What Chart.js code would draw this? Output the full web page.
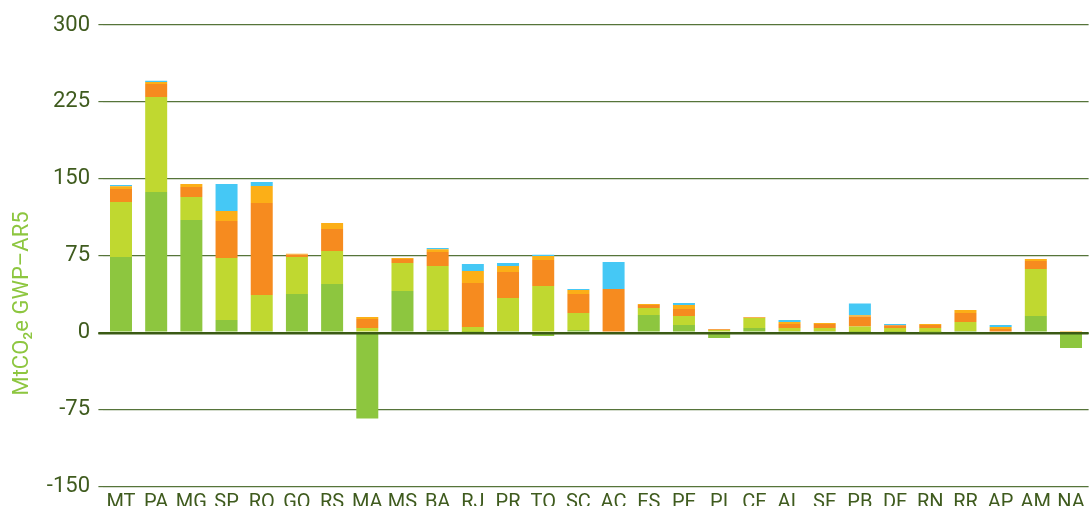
<!DOCTYPE html>
<html>
<head>
<meta charset="utf-8">
<script src="https://cdn.jsdelivr.net/npm/chart.js@4.4.1/dist/chart.umd.min.js"></script>
<style>
  html, body { margin: 0; padding: 0; background: #ffffff; overflow: hidden; }
  #wrap { position: relative; width: 1090px; height: 520px; }
</style>
</head>
<body>
<div id="wrap"><canvas id="c"></canvas></div>
<script>
// Categories (Brazilian states)
const categories = ['MT','PA','MG','SP','RO','GO','RS','MA','MS','BA','RJ','PR','TO','SC','AC','ES','PE','PI','CE','AL','SE','PB','DF','RN','RR','AP','AM','NA'];

// Series values (MtCO2e GWP-AR5), stacked bottom to top
const mudancaUsoTerra = [73.7,137.1,109.8,12.2,1.5,37.6,47.3,-84,40.5,2.4,0.5,1.5,-3.4,2.4,0,17.1,7.3,-5.4,4.4,1.5,1.5,0.5,0.5,0.3,1.5,0,16.1,-15.1];
const agropecuaria    = [53.6,92.7,22.4,60.5,35.1,36.1,32.2,4.4,27.3,62.5,4.9,32.2,45.4,16.6,0,6.8,8.8,2.4,9.7,2.9,2.9,5.4,3.9,4.1,8.7,0,45.8,1];
const energia         = [12.7,12.6,9.7,36.1,89.7,2.5,21.5,8.8,3.9,13.6,42.9,25.3,25.3,18.6,42.4,2.9,6.8,0.7,0.5,3.9,3.9,9.7,2.6,2.9,8.8,3.4,7.9,0];
const processos       = [2.6,2,3,9.7,16.6,0.7,5.8,1.9,1,2.7,11.7,5.9,3.9,3.9,0,1,3.9,0.3,0.5,1.9,1,1.3,0,1,2.9,2,1.9,0.5];
const residuos        = [1.3,1.3,0,26.4,3.9,0,0,0,0,1.2,6.8,2.9,1.3,1,26.4,0,2,0,0,2,0,11.4,1.3,0,0,1.9,0,0];

// Axis
const yTicks = [-150,-75,0,75,150,225,300];
const yTitle = 'MtCO\u2082e GWP\u2013AR5';

const tickColor = '#3f5b1e';

const yTitlePlugin = {
  id: 'yTitle',
  afterDraw(chart) {
    const ctx = chart.ctx;
    ctx.save();
    ctx.translate(28, 303.5);
    ctx.rotate(-Math.PI / 2);
    ctx.font = '22px Roboto';
    ctx.fillStyle = '#8dc63f';
    ctx.textAlign = 'center';
    ctx.textBaseline = 'alphabetic';
    ctx.fillText(yTitle, 0, 0);
    ctx.restore();
  }
};

// Zero baseline drawn above the bars, positioned by the y scale
const zeroLinePlugin = {
  id: 'zeroLine',
  afterDatasetsDraw(chart) {
    const y = chart.scales.y;
    const py = y.getPixelForValue(0);
    const ctx = chart.ctx;
    ctx.save();
    ctx.strokeStyle = '#3b5a14';
    ctx.lineWidth = 2;
    ctx.beginPath();
    ctx.moveTo(chart.chartArea.left - 5, py + 1);
    ctx.lineTo(chart.chartArea.right, py + 1);
    ctx.stroke();
    ctx.restore();
  }
};

const mk = (label, data, color) => ({
  label, data, backgroundColor: color, borderWidth: 0,
  categoryPercentage: 1, barPercentage: 0.625, stack: 's'
});

new Chart(document.getElementById('c'), {
  type: 'bar',
  data: {
    labels: categories,
    datasets: [
      mk('Mudança de Uso da Terra e Florestas', mudancaUsoTerra, '#8dc63f'),
      mk('Agropecuária', agropecuaria, '#c0d830'),
      mk('Energia', energia, '#f68b1f'),
      mk('Processos Industriais', processos, '#fcaf17'),
      mk('Resíduos', residuos, '#45c8f5')
    ]
  },
  options: {
    responsive: true,
    maintainAspectRatio: false,
    animation: false,
    events: [],
    layout: { padding: { top: 25, right: 1.4, bottom: 0, left: 0 } },
    plugins: { legend: { display: false }, tooltip: { enabled: false } },
    scales: {
      x: {
        stacked: true,
        grid: { display: false, drawTicks: false },
        border: { display: false },
        ticks: { color: tickColor, font: { family: 'Roboto', size: 20 }, padding: 5, maxRotation: 0, autoSkip: false },
        afterFit(scale) { scale.height = 33.75; }
      },
      y: {
        stacked: true,
        min: -150,
        max: 300,
        afterBuildTicks(scale) { scale.ticks = yTicks.map(v => ({ value: v })); },
        afterFit(scale) { scale.width = 103.4; },
        border: { display: false },
        grid: {
          drawTicks: true,
          tickLength: 5,
          color: ctx => (ctx.tick && ctx.tick.value === 0) ? '#3b5a14' : '#56743a',
          lineWidth: ctx => (ctx.tick && ctx.tick.value === 0) ? 2 : 1.2
        },
        ticks: { color: tickColor, font: { family: 'Roboto', size: 22 }, padding: 8.4 }
      }
    }
  },
  plugins: [yTitlePlugin, zeroLinePlugin]
});
</script>
</body>
</html>
